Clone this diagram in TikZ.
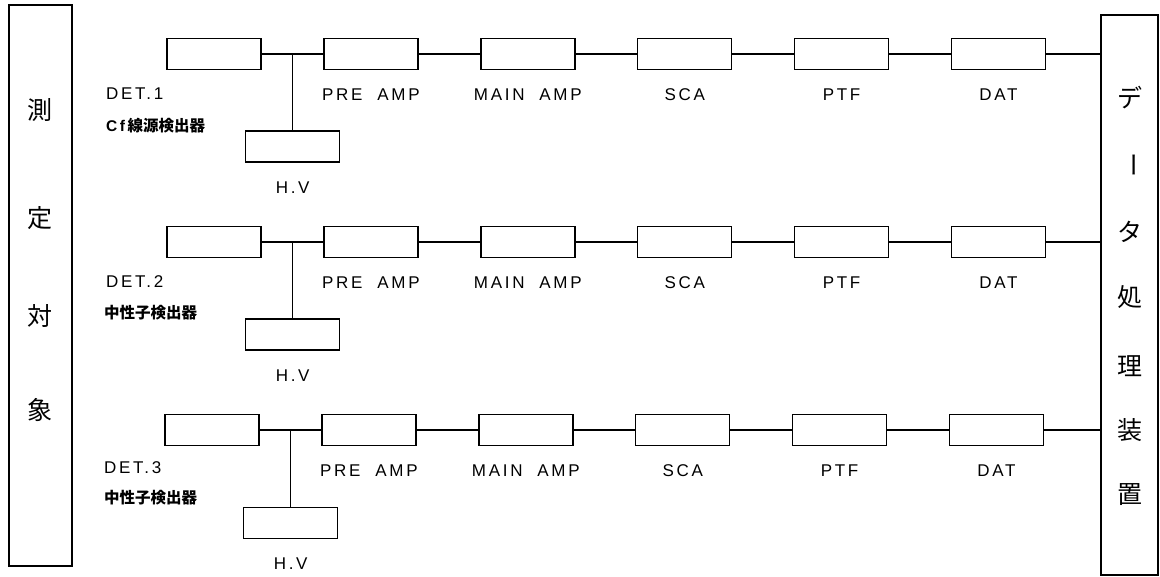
\documentclass[tikz,border=0pt]{standalone}
\usepackage{fontspec}
\setmainfont{Liberation Sans}
\newfontfamily\lblfont[LetterSpace=16, WordSpace=2]{Liberation Sans}
\newfontfamily\jpfont{Noto Sans CJK JP}
\usetikzlibrary{positioning}

\tikzset{
  blk/.style={draw, line width=1.4pt, minimum width=94pt, minimum height=31pt, inner sep=0pt},
  side/.style={draw, line width=1.4pt, inner sep=0pt},
  wire/.style={line width=1.3pt},
  lbl/.style={font=\lblfont\fontsize{17}{19}\selectfont, inner sep=0pt, text height=12.2pt, text depth=0pt},
  jlbl/.style={font=\jpfont\bfseries\fontsize{15.5}{17}\selectfont, inner sep=0pt, anchor=west},
  vtext/.style={font=\jpfont\fontsize{25}{27}\selectfont, inner sep=0pt},
}

\begin{document}
\begin{tikzpicture}[x=1pt, y=-1pt, node distance=61.5pt]
  \useasboundingbox (0,0) rectangle (1160,577);

  % Objeto medido y sistema de datos
  \node[side, minimum width=63pt, minimum height=561pt] (obj) at (40.5,285.5) {};
  \node[side, minimum width=57pt, minimum height=560pt] (dps) at (1129.5,295) {};
  \node[vtext] (o1) at (40,110) {測};
  \node[vtext] (o2) at (40,218) {定};
  \node[vtext] (o3) at (40,316) {対};
  \node[vtext] (o4) at (40,410) {象};
  \node[vtext] (p1) at (1130,98) {デ};
  \node[vtext] (p2) at (1130,165) {\rotatebox[origin=c]{-90}{ー}};
  \node[vtext] (p3) at (1130,232) {タ};
  \node[vtext] (p4) at (1130,297) {処};
  \node[vtext] (p5) at (1130,366) {理};
  \node[vtext] (p6) at (1130,430) {装};
  \node[vtext] (p7) at (1130,495) {置};

  % Canal 1
  \node[blk] (det1) at (214,54) {};
  \node[blk, right=of det1] (pre1) {};
  \node[blk, right=of pre1] (main1) {};
  \node[blk, right=of main1] (sca1) {};
  \node[blk, right=of sca1] (ptf1) {};
  \node[blk, right=of ptf1] (dat1) {};
  \coordinate[right=31pt of det1] (j1);
  \node[blk, below=76.5pt of j1] (hv1) {};
  \draw[wire] (det1) -- (pre1) -- (main1) -- (sca1) -- (ptf1) -- (dat1) -- (dat1 -| dps.west);
  \draw[wire] (j1) -- (hv1);
  \node[lbl, below=18pt of pre1] (pre1l) {PRE AMP};
  \node[lbl, below=18pt of main1] (main1l) {MAIN AMP};
  \node[lbl, below=18pt of sca1] (sca1l) {SCA};
  \node[lbl, below=18pt of ptf1] (ptf1l) {PTF};
  \node[lbl, below=18pt of dat1] (dat1l) {DAT};
  \node[lbl, below=18pt of hv1] (hv1l) {H.V};
  \node[lbl, anchor=west] (det1l) at (106,93) {DET.1};
  \node[jlbl] (det1j) at (106,126) {{\lblfont\bfseries Cf}\,線源検出器};

  % Canal 2
  \node[blk] (det2) at (214,242) {};
  \node[blk, right=of det2] (pre2) {};
  \node[blk, right=of pre2] (main2) {};
  \node[blk, right=of main2] (sca2) {};
  \node[blk, right=of sca2] (ptf2) {};
  \node[blk, right=of ptf2] (dat2) {};
  \coordinate[right=31pt of det2] (j2);
  \node[blk, below=76.5pt of j2] (hv2) {};
  \draw[wire] (det2) -- (pre2) -- (main2) -- (sca2) -- (ptf2) -- (dat2) -- (dat2 -| dps.west);
  \draw[wire] (j2) -- (hv2);
  \node[lbl, below=18pt of pre2] (pre2l) {PRE AMP};
  \node[lbl, below=18pt of main2] (main2l) {MAIN AMP};
  \node[lbl, below=18pt of sca2] (sca2l) {SCA};
  \node[lbl, below=18pt of ptf2] (ptf2l) {PTF};
  \node[lbl, below=18pt of dat2] (dat2l) {DAT};
  \node[lbl, below=18pt of hv2] (hv2l) {H.V};
  \node[lbl, anchor=west] (det2l) at (106,281) {DET.2};
  \node[jlbl] (det2j) at (104,313) {中性子検出器};

  % Canal 3
  \node[blk] (det3) at (212,430) {};
  \node[blk, right=of det3] (pre3) {};
  \node[blk, right=of pre3] (main3) {};
  \node[blk, right=of main3] (sca3) {};
  \node[blk, right=of sca3] (ptf3) {};
  \node[blk, right=of ptf3] (dat3) {};
  \coordinate[right=31pt of det3] (j3);
  \node[blk, below=76.5pt of j3] (hv3) {};
  \draw[wire] (det3) -- (pre3) -- (main3) -- (sca3) -- (ptf3) -- (dat3) -- (dat3 -| dps.west);
  \draw[wire] (j3) -- (hv3);
  \node[lbl, below=18pt of pre3] (pre3l) {PRE AMP};
  \node[lbl, below=18pt of main3] (main3l) {MAIN AMP};
  \node[lbl, below=18pt of sca3] (sca3l) {SCA};
  \node[lbl, below=18pt of ptf3] (ptf3l) {PTF};
  \node[lbl, below=18pt of dat3] (dat3l) {DAT};
  \node[lbl, below=18pt of hv3] (hv3l) {H.V};
  \node[lbl, anchor=west] (det3l) at (104,467) {DET.3};
  \node[jlbl] (det3j) at (104,498) {中性子検出器};
\end{tikzpicture}
\end{document}
